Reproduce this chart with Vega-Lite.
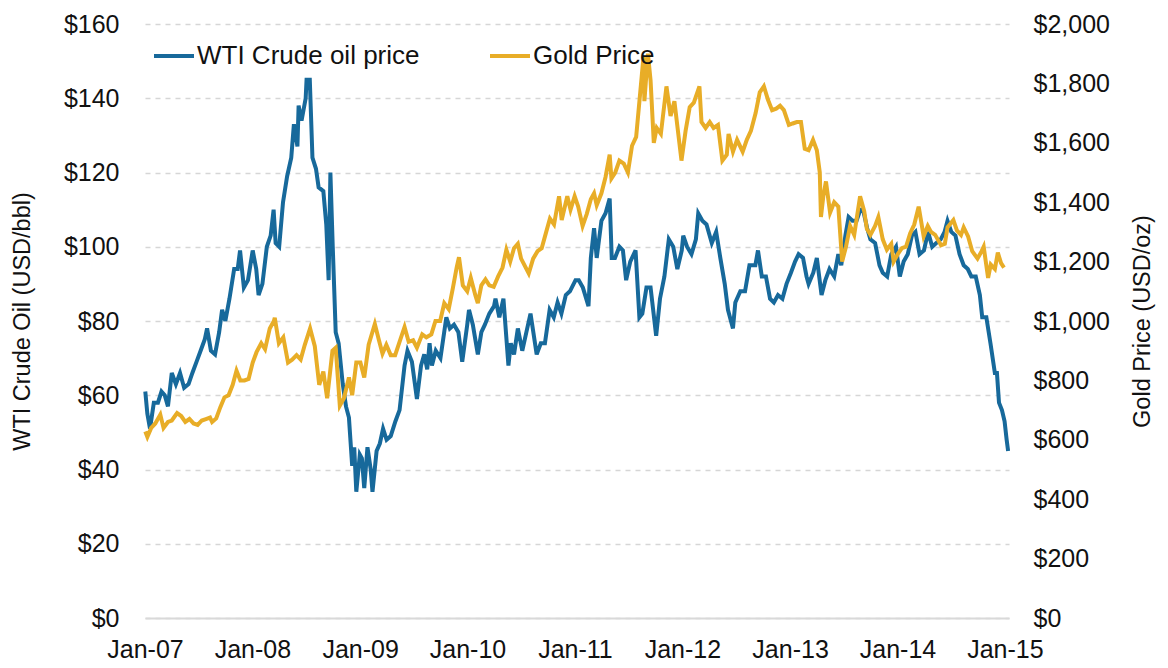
{
  "$schema": "https://vega.github.io/schema/vega-lite/v6.json",
  "width": 864,
  "height": 594,
  "autosize": {"type": "none"},
  "padding": {"left": 145, "top": 24, "right": 159, "bottom": 50},
  "background": "white",
  "config": {
    "view": {"stroke": null},
    "font": "Liberation Sans",
    "axis": {"labelFont": "Liberation Sans", "titleFont": "Liberation Sans", "labelColor": "#111111", "titleColor": "#111111", "titleFontWeight": "normal", "ticks": false}
  },
  "datasets": {
    "oil": [
      {"date": "2007-01-02", "price": 61}, {"date": "2007-01-09", "price": 55}, {"date": "2007-01-18", "price": 51}, {"date": "2007-01-31", "price": 58},
      {"date": "2007-02-14", "price": 58}, {"date": "2007-02-26", "price": 61}, {"date": "2007-03-09", "price": 60}, {"date": "2007-03-20", "price": 57},
      {"date": "2007-04-02", "price": 66}, {"date": "2007-04-16", "price": 63}, {"date": "2007-04-30", "price": 66}, {"date": "2007-05-14", "price": 62},
      {"date": "2007-05-29", "price": 63}, {"date": "2007-06-11", "price": 66}, {"date": "2007-06-25", "price": 69}, {"date": "2007-07-09", "price": 72},
      {"date": "2007-07-23", "price": 75}, {"date": "2007-07-31", "price": 78}, {"date": "2007-08-13", "price": 72}, {"date": "2007-08-27", "price": 71},
      {"date": "2007-09-10", "price": 77}, {"date": "2007-09-20", "price": 83}, {"date": "2007-10-01", "price": 80}, {"date": "2007-10-15", "price": 86},
      {"date": "2007-10-31", "price": 94}, {"date": "2007-11-12", "price": 94}, {"date": "2007-11-20", "price": 99}, {"date": "2007-12-03", "price": 89},
      {"date": "2007-12-17", "price": 91}, {"date": "2008-01-02", "price": 99}, {"date": "2008-01-14", "price": 94}, {"date": "2008-01-22", "price": 87},
      {"date": "2008-02-04", "price": 90}, {"date": "2008-02-19", "price": 100}, {"date": "2008-03-03", "price": 103}, {"date": "2008-03-13", "price": 110},
      {"date": "2008-03-20", "price": 101}, {"date": "2008-04-01", "price": 100}, {"date": "2008-04-14", "price": 112}, {"date": "2008-04-28", "price": 119},
      {"date": "2008-05-12", "price": 124}, {"date": "2008-05-21", "price": 133}, {"date": "2008-06-02", "price": 127}, {"date": "2008-06-06", "price": 138},
      {"date": "2008-06-16", "price": 134}, {"date": "2008-06-30", "price": 140}, {"date": "2008-07-03", "price": 145}, {"date": "2008-07-14", "price": 145},
      {"date": "2008-07-23", "price": 124}, {"date": "2008-08-04", "price": 121}, {"date": "2008-08-13", "price": 116}, {"date": "2008-08-29", "price": 115},
      {"date": "2008-09-08", "price": 106}, {"date": "2008-09-16", "price": 91}, {"date": "2008-09-22", "price": 120}, {"date": "2008-09-30", "price": 100},
      {"date": "2008-10-10", "price": 77}, {"date": "2008-10-20", "price": 74}, {"date": "2008-11-03", "price": 63}, {"date": "2008-11-14", "price": 57},
      {"date": "2008-11-24", "price": 54}, {"date": "2008-12-05", "price": 41}, {"date": "2008-12-12", "price": 46}, {"date": "2008-12-19", "price": 34},
      {"date": "2008-12-31", "price": 44}, {"date": "2009-01-07", "price": 43}, {"date": "2009-01-15", "price": 35}, {"date": "2009-01-26", "price": 46},
      {"date": "2009-02-06", "price": 40}, {"date": "2009-02-12", "price": 34}, {"date": "2009-02-26", "price": 45}, {"date": "2009-03-09", "price": 47},
      {"date": "2009-03-20", "price": 51}, {"date": "2009-04-01", "price": 48}, {"date": "2009-04-15", "price": 49}, {"date": "2009-05-01", "price": 53},
      {"date": "2009-05-15", "price": 56}, {"date": "2009-06-01", "price": 68}, {"date": "2009-06-11", "price": 72}, {"date": "2009-06-26", "price": 69},
      {"date": "2009-07-13", "price": 59}, {"date": "2009-07-27", "price": 68}, {"date": "2009-08-07", "price": 71}, {"date": "2009-08-17", "price": 67},
      {"date": "2009-08-25", "price": 74}, {"date": "2009-09-02", "price": 68}, {"date": "2009-09-15", "price": 72}, {"date": "2009-10-01", "price": 70},
      {"date": "2009-10-21", "price": 81}, {"date": "2009-11-02", "price": 78}, {"date": "2009-11-16", "price": 79}, {"date": "2009-12-01", "price": 77},
      {"date": "2009-12-14", "price": 69}, {"date": "2009-12-31", "price": 79}, {"date": "2010-01-06", "price": 83}, {"date": "2010-01-19", "price": 79},
      {"date": "2010-02-05", "price": 71}, {"date": "2010-02-17", "price": 77}, {"date": "2010-03-01", "price": 79}, {"date": "2010-03-16", "price": 82},
      {"date": "2010-04-01", "price": 84}, {"date": "2010-04-06", "price": 86}, {"date": "2010-04-19", "price": 81}, {"date": "2010-05-03", "price": 86},
      {"date": "2010-05-20", "price": 68}, {"date": "2010-05-28", "price": 74}, {"date": "2010-06-08", "price": 71}, {"date": "2010-06-21", "price": 78},
      {"date": "2010-07-06", "price": 72}, {"date": "2010-07-20", "price": 77}, {"date": "2010-08-03", "price": 82}, {"date": "2010-08-24", "price": 71},
      {"date": "2010-09-07", "price": 74}, {"date": "2010-09-21", "price": 74}, {"date": "2010-10-07", "price": 83}, {"date": "2010-10-21", "price": 81},
      {"date": "2010-11-03", "price": 85}, {"date": "2010-11-16", "price": 82}, {"date": "2010-12-01", "price": 87}, {"date": "2010-12-15", "price": 88},
      {"date": "2011-01-03", "price": 91}, {"date": "2011-01-14", "price": 91}, {"date": "2011-01-28", "price": 89}, {"date": "2011-02-16", "price": 84},
      {"date": "2011-02-24", "price": 97}, {"date": "2011-03-07", "price": 105}, {"date": "2011-03-16", "price": 97}, {"date": "2011-04-01", "price": 107},
      {"date": "2011-04-15", "price": 109}, {"date": "2011-04-29", "price": 113}, {"date": "2011-05-06", "price": 97}, {"date": "2011-05-17", "price": 97},
      {"date": "2011-06-01", "price": 100}, {"date": "2011-06-13", "price": 99}, {"date": "2011-06-24", "price": 91}, {"date": "2011-07-08", "price": 96},
      {"date": "2011-07-26", "price": 99}, {"date": "2011-08-08", "price": 81}, {"date": "2011-08-18", "price": 82}, {"date": "2011-09-01", "price": 89},
      {"date": "2011-09-15", "price": 89}, {"date": "2011-10-04", "price": 76}, {"date": "2011-10-17", "price": 86}, {"date": "2011-11-01", "price": 92},
      {"date": "2011-11-16", "price": 102}, {"date": "2011-12-01", "price": 100}, {"date": "2011-12-15", "price": 94}, {"date": "2011-12-30", "price": 99},
      {"date": "2012-01-04", "price": 103}, {"date": "2012-01-17", "price": 100}, {"date": "2012-02-01", "price": 98}, {"date": "2012-02-16", "price": 102},
      {"date": "2012-02-24", "price": 109}, {"date": "2012-03-09", "price": 107}, {"date": "2012-03-23", "price": 106}, {"date": "2012-04-10", "price": 101},
      {"date": "2012-04-25", "price": 104}, {"date": "2012-05-09", "price": 97}, {"date": "2012-05-24", "price": 90}, {"date": "2012-06-04", "price": 83},
      {"date": "2012-06-21", "price": 78}, {"date": "2012-06-29", "price": 85}, {"date": "2012-07-16", "price": 88}, {"date": "2012-08-01", "price": 88},
      {"date": "2012-08-16", "price": 95}, {"date": "2012-09-05", "price": 95}, {"date": "2012-09-14", "price": 99}, {"date": "2012-09-27", "price": 92},
      {"date": "2012-10-11", "price": 92}, {"date": "2012-10-25", "price": 86}, {"date": "2012-11-07", "price": 85}, {"date": "2012-11-21", "price": 87},
      {"date": "2012-12-06", "price": 86}, {"date": "2012-12-20", "price": 90}, {"date": "2013-01-04", "price": 93}, {"date": "2013-01-18", "price": 96},
      {"date": "2013-01-30", "price": 98}, {"date": "2013-02-14", "price": 97}, {"date": "2013-02-26", "price": 92}, {"date": "2013-03-05", "price": 90},
      {"date": "2013-03-21", "price": 93}, {"date": "2013-04-02", "price": 97}, {"date": "2013-04-18", "price": 87}, {"date": "2013-05-01", "price": 91},
      {"date": "2013-05-15", "price": 94}, {"date": "2013-05-31", "price": 92}, {"date": "2013-06-14", "price": 98}, {"date": "2013-06-24", "price": 95},
      {"date": "2013-07-08", "price": 103}, {"date": "2013-07-19", "price": 108}, {"date": "2013-08-01", "price": 107}, {"date": "2013-08-15", "price": 107},
      {"date": "2013-08-28", "price": 110}, {"date": "2013-09-06", "price": 110}, {"date": "2013-09-20", "price": 105}, {"date": "2013-10-01", "price": 102},
      {"date": "2013-10-17", "price": 101}, {"date": "2013-11-01", "price": 95}, {"date": "2013-11-12", "price": 93}, {"date": "2013-11-27", "price": 92},
      {"date": "2013-12-11", "price": 98}, {"date": "2013-12-27", "price": 100}, {"date": "2014-01-09", "price": 92}, {"date": "2014-01-22", "price": 96},
      {"date": "2014-02-05", "price": 98}, {"date": "2014-02-19", "price": 103}, {"date": "2014-03-03", "price": 104}, {"date": "2014-03-17", "price": 98},
      {"date": "2014-04-01", "price": 99}, {"date": "2014-04-15", "price": 104}, {"date": "2014-04-29", "price": 100}, {"date": "2014-05-13", "price": 101},
      {"date": "2014-05-28", "price": 102}, {"date": "2014-06-10", "price": 104}, {"date": "2014-06-20", "price": 107}, {"date": "2014-07-03", "price": 104},
      {"date": "2014-07-17", "price": 103}, {"date": "2014-07-31", "price": 98}, {"date": "2014-08-14", "price": 95}, {"date": "2014-08-28", "price": 94},
      {"date": "2014-09-09", "price": 92}, {"date": "2014-09-24", "price": 92}, {"date": "2014-10-08", "price": 87}, {"date": "2014-10-16", "price": 81},
      {"date": "2014-10-30", "price": 81}, {"date": "2014-11-13", "price": 74}, {"date": "2014-11-28", "price": 66}, {"date": "2014-12-05", "price": 66},
      {"date": "2014-12-12", "price": 58}, {"date": "2014-12-22", "price": 56}, {"date": "2014-12-31", "price": 53}, {"date": "2015-01-07", "price": 48},
      {"date": "2015-01-12", "price": 45}
    ],
    "gold": [
      {"date": "2007-01-02", "price": 628}, {"date": "2007-01-09", "price": 610}, {"date": "2007-01-22", "price": 640}, {"date": "2007-02-05", "price": 655},
      {"date": "2007-02-22", "price": 685}, {"date": "2007-03-05", "price": 640}, {"date": "2007-03-20", "price": 660}, {"date": "2007-04-02", "price": 665},
      {"date": "2007-04-20", "price": 690}, {"date": "2007-05-04", "price": 680}, {"date": "2007-05-18", "price": 660}, {"date": "2007-06-01", "price": 670},
      {"date": "2007-06-15", "price": 655}, {"date": "2007-06-29", "price": 650}, {"date": "2007-07-13", "price": 665}, {"date": "2007-07-27", "price": 670},
      {"date": "2007-08-10", "price": 675}, {"date": "2007-08-17", "price": 660}, {"date": "2007-08-31", "price": 672}, {"date": "2007-09-14", "price": 710},
      {"date": "2007-09-28", "price": 743}, {"date": "2007-10-12", "price": 750}, {"date": "2007-10-26", "price": 785}, {"date": "2007-11-08", "price": 833},
      {"date": "2007-11-21", "price": 800}, {"date": "2007-12-05", "price": 800}, {"date": "2007-12-19", "price": 805}, {"date": "2008-01-02", "price": 860},
      {"date": "2008-01-15", "price": 895}, {"date": "2008-01-31", "price": 925}, {"date": "2008-02-13", "price": 905}, {"date": "2008-02-29", "price": 975},
      {"date": "2008-03-14", "price": 1000}, {"date": "2008-03-17", "price": 1011}, {"date": "2008-03-31", "price": 925}, {"date": "2008-04-15", "price": 945},
      {"date": "2008-05-01", "price": 860}, {"date": "2008-05-15", "price": 870}, {"date": "2008-05-30", "price": 885}, {"date": "2008-06-13", "price": 870},
      {"date": "2008-06-27", "price": 920}, {"date": "2008-07-15", "price": 975}, {"date": "2008-07-31", "price": 915}, {"date": "2008-08-15", "price": 785},
      {"date": "2008-08-29", "price": 830}, {"date": "2008-09-11", "price": 740}, {"date": "2008-09-29", "price": 900}, {"date": "2008-10-10", "price": 910},
      {"date": "2008-10-24", "price": 715}, {"date": "2008-11-07", "price": 740}, {"date": "2008-11-24", "price": 810}, {"date": "2008-12-05", "price": 750},
      {"date": "2008-12-19", "price": 860}, {"date": "2009-01-02", "price": 860}, {"date": "2009-01-15", "price": 810}, {"date": "2009-01-30", "price": 920},
      {"date": "2009-02-20", "price": 990}, {"date": "2009-03-06", "price": 935}, {"date": "2009-03-18", "price": 890}, {"date": "2009-03-31", "price": 920},
      {"date": "2009-04-15", "price": 885}, {"date": "2009-04-30", "price": 885}, {"date": "2009-05-15", "price": 930}, {"date": "2009-06-01", "price": 980},
      {"date": "2009-06-15", "price": 930}, {"date": "2009-06-30", "price": 935}, {"date": "2009-07-13", "price": 910}, {"date": "2009-07-31", "price": 955},
      {"date": "2009-08-14", "price": 945}, {"date": "2009-08-31", "price": 955}, {"date": "2009-09-14", "price": 1000}, {"date": "2009-09-30", "price": 1000},
      {"date": "2009-10-14", "price": 1060}, {"date": "2009-10-29", "price": 1040}, {"date": "2009-11-12", "price": 1110}, {"date": "2009-11-25", "price": 1180},
      {"date": "2009-12-03", "price": 1215}, {"date": "2009-12-16", "price": 1120}, {"date": "2009-12-31", "price": 1100}, {"date": "2010-01-12", "price": 1145},
      {"date": "2010-01-28", "price": 1085}, {"date": "2010-02-05", "price": 1060}, {"date": "2010-02-17", "price": 1120}, {"date": "2010-03-03", "price": 1140},
      {"date": "2010-03-16", "price": 1120}, {"date": "2010-03-31", "price": 1115}, {"date": "2010-04-15", "price": 1150}, {"date": "2010-04-30", "price": 1180},
      {"date": "2010-05-13", "price": 1240}, {"date": "2010-05-26", "price": 1200}, {"date": "2010-06-08", "price": 1245}, {"date": "2010-06-21", "price": 1260},
      {"date": "2010-07-02", "price": 1210}, {"date": "2010-07-28", "price": 1160}, {"date": "2010-08-12", "price": 1210}, {"date": "2010-08-27", "price": 1235},
      {"date": "2010-09-10", "price": 1245}, {"date": "2010-09-24", "price": 1295}, {"date": "2010-10-08", "price": 1345}, {"date": "2010-10-22", "price": 1325},
      {"date": "2010-11-08", "price": 1420}, {"date": "2010-11-17", "price": 1340}, {"date": "2010-12-06", "price": 1420}, {"date": "2010-12-17", "price": 1375},
      {"date": "2010-12-31", "price": 1420}, {"date": "2011-01-12", "price": 1385}, {"date": "2011-01-27", "price": 1320}, {"date": "2011-02-10", "price": 1360},
      {"date": "2011-02-24", "price": 1410}, {"date": "2011-03-07", "price": 1430}, {"date": "2011-03-16", "price": 1390}, {"date": "2011-04-01", "price": 1430},
      {"date": "2011-04-15", "price": 1485}, {"date": "2011-04-29", "price": 1560}, {"date": "2011-05-05", "price": 1480}, {"date": "2011-05-18", "price": 1500},
      {"date": "2011-06-01", "price": 1540}, {"date": "2011-06-16", "price": 1530}, {"date": "2011-06-30", "price": 1500}, {"date": "2011-07-14", "price": 1590},
      {"date": "2011-07-28", "price": 1620}, {"date": "2011-08-10", "price": 1760}, {"date": "2011-08-22", "price": 1890}, {"date": "2011-08-25", "price": 1740},
      {"date": "2011-09-06", "price": 1900}, {"date": "2011-09-15", "price": 1810}, {"date": "2011-09-26", "price": 1600}, {"date": "2011-10-06", "price": 1650},
      {"date": "2011-10-20", "price": 1630}, {"date": "2011-11-08", "price": 1790}, {"date": "2011-11-22", "price": 1690}, {"date": "2011-12-05", "price": 1740},
      {"date": "2011-12-29", "price": 1540}, {"date": "2012-01-12", "price": 1640}, {"date": "2012-01-26", "price": 1720}, {"date": "2012-02-09", "price": 1735},
      {"date": "2012-02-28", "price": 1790}, {"date": "2012-03-06", "price": 1670}, {"date": "2012-03-20", "price": 1650}, {"date": "2012-04-03", "price": 1670},
      {"date": "2012-04-16", "price": 1650}, {"date": "2012-05-01", "price": 1660}, {"date": "2012-05-16", "price": 1540}, {"date": "2012-05-31", "price": 1560},
      {"date": "2012-06-06", "price": 1630}, {"date": "2012-06-21", "price": 1570}, {"date": "2012-07-05", "price": 1610}, {"date": "2012-07-24", "price": 1570},
      {"date": "2012-08-07", "price": 1610}, {"date": "2012-08-21", "price": 1640}, {"date": "2012-09-06", "price": 1700}, {"date": "2012-09-20", "price": 1770},
      {"date": "2012-10-04", "price": 1790}, {"date": "2012-10-18", "price": 1745}, {"date": "2012-11-01", "price": 1710}, {"date": "2012-11-15", "price": 1715},
      {"date": "2012-11-28", "price": 1725}, {"date": "2012-12-11", "price": 1710}, {"date": "2012-12-28", "price": 1660}, {"date": "2013-01-10", "price": 1665},
      {"date": "2013-01-24", "price": 1670}, {"date": "2013-02-07", "price": 1670}, {"date": "2013-02-20", "price": 1580}, {"date": "2013-03-05", "price": 1575},
      {"date": "2013-03-20", "price": 1610}, {"date": "2013-04-02", "price": 1575}, {"date": "2013-04-12", "price": 1500}, {"date": "2013-04-16", "price": 1350},
      {"date": "2013-04-24", "price": 1420}, {"date": "2013-05-03", "price": 1470}, {"date": "2013-05-17", "price": 1365}, {"date": "2013-05-31", "price": 1400},
      {"date": "2013-06-14", "price": 1385}, {"date": "2013-06-27", "price": 1200}, {"date": "2013-07-10", "price": 1250}, {"date": "2013-07-24", "price": 1320},
      {"date": "2013-08-07", "price": 1290}, {"date": "2013-08-27", "price": 1420}, {"date": "2013-09-10", "price": 1370}, {"date": "2013-09-19", "price": 1310},
      {"date": "2013-10-01", "price": 1290}, {"date": "2013-10-17", "price": 1320}, {"date": "2013-10-28", "price": 1350}, {"date": "2013-11-12", "price": 1275},
      {"date": "2013-11-26", "price": 1240}, {"date": "2013-12-11", "price": 1260}, {"date": "2013-12-19", "price": 1200}, {"date": "2014-01-02", "price": 1225},
      {"date": "2014-01-16", "price": 1245}, {"date": "2014-01-30", "price": 1250}, {"date": "2014-02-13", "price": 1295}, {"date": "2014-02-27", "price": 1325},
      {"date": "2014-03-14", "price": 1385}, {"date": "2014-03-31", "price": 1285}, {"date": "2014-04-14", "price": 1320}, {"date": "2014-04-25", "price": 1300},
      {"date": "2014-05-09", "price": 1290}, {"date": "2014-05-29", "price": 1255}, {"date": "2014-06-11", "price": 1260}, {"date": "2014-06-20", "price": 1315},
      {"date": "2014-07-10", "price": 1340}, {"date": "2014-07-22", "price": 1305}, {"date": "2014-08-05", "price": 1290}, {"date": "2014-08-14", "price": 1315},
      {"date": "2014-08-29", "price": 1285}, {"date": "2014-09-12", "price": 1235}, {"date": "2014-09-30", "price": 1210}, {"date": "2014-10-14", "price": 1235},
      {"date": "2014-10-21", "price": 1250}, {"date": "2014-11-05", "price": 1145}, {"date": "2014-11-14", "price": 1190}, {"date": "2014-11-28", "price": 1175},
      {"date": "2014-12-08", "price": 1230}, {"date": "2014-12-19", "price": 1195}, {"date": "2014-12-29", "price": 1180}
    ]
  },
  "layer": [
    {
      "data": {"name": "oil"},
      "mark": {"type": "line", "strokeWidth": 4},
      "encoding": {
        "x": {
          "field": "date", "type": "temporal",
          "scale": {"domain": [{"year": 2007, "month": 1, "date": 1}, {"year": 2015, "month": 1, "date": 15}]},
          "axis": {
            "title": null, "format": "%b-%y", "grid": false, "labelFontSize": 25, "labelPadding": 19,
            "labelOverlap": false, "labelBound": false, "labelFlush": false,
            "domainColor": "#d9d9d9", "domainWidth": 2,
            "values": [
              {"year": 2007, "month": 1, "date": 1}, {"year": 2008, "month": 1, "date": 1}, {"year": 2009, "month": 1, "date": 1},
              {"year": 2010, "month": 1, "date": 1}, {"year": 2011, "month": 1, "date": 1}, {"year": 2012, "month": 1, "date": 1},
              {"year": 2013, "month": 1, "date": 1}, {"year": 2014, "month": 1, "date": 1}, {"year": 2015, "month": 1, "date": 1}
            ]
          }
        },
        "y": {
          "field": "price", "type": "quantitative",
          "scale": {"domain": [0, 160], "nice": false},
          "axis": {
            "title": "WTI Crude Oil (USD/bbl)", "titleFontSize": 23.5, "titlePadding": 29,
            "values": [0, 20, 40, 60, 80, 100, 120, 140, 160], "format": "$,.0f",
            "labelFontSize": 25, "labelPadding": 26, "domain": false,
            "grid": true, "gridDash": [5, 5], "gridColor": "#d6d6d6", "gridWidth": 1.5
          }
        },
        "color": {
          "datum": "WTI Crude oil price", "type": "nominal",
          "scale": {"domain": ["WTI Crude oil price", "Gold Price"], "range": ["#17699b", "#e8ad27"]},
          "legend": {
            "orient": "none", "legendX": 7, "legendY": 10, "direction": "horizontal", "title": null,
            "symbolType": "stroke", "symbolSize": 1600, "symbolStrokeWidth": 4,
            "labelFontSize": 26, "labelFont": "Liberation Sans", "labelColor": "#111111", "labelLimit": 0,
            "labelOffset": 1, "columnPadding": 62
          }
        }
      }
    },
    {
      "data": {"name": "gold"},
      "mark": {"type": "line", "strokeWidth": 4},
      "encoding": {
        "x": {"field": "date", "type": "temporal"},
        "y": {
          "field": "price", "type": "quantitative",
          "scale": {"domain": [0, 2000], "nice": false},
          "axis": {
            "orient": "right", "title": "Gold Price (USD/oz)", "titleFontSize": 23.5, "titleAngle": -90, "titlePadding": 45,
            "values": [0, 200, 400, 600, 800, 1000, 1200, 1400, 1600, 1800, 2000], "format": "$,.0f",
            "labelFontSize": 25, "labelPadding": 24, "domain": false, "grid": false
          }
        },
        "color": {"datum": "Gold Price", "type": "nominal"}
      }
    }
  ],
  "resolve": {"scale": {"y": "independent"}}
}
